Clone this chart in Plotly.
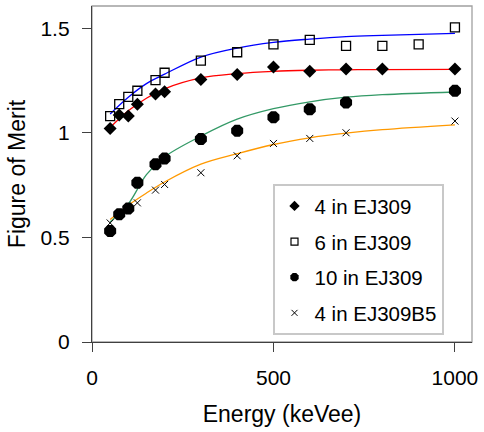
import plotly.graph_objects as go

# ---- data ----
x_diam = [50, 75, 100, 125, 175, 200, 300, 400, 500, 600, 700, 800, 1000]
y_diam = [1.02, 1.085, 1.08, 1.136, 1.185, 1.196, 1.255, 1.278, 1.314, 1.294, 1.305, 1.305, 1.305]

x_sq = [50, 75, 100, 125, 175, 200, 300, 400, 500, 600, 700, 800, 900, 1000]
y_sq = [1.08, 1.137, 1.172, 1.201, 1.252, 1.287, 1.345, 1.385, 1.423, 1.444, 1.415, 1.415, 1.423, 1.504]

x_circ = [50, 75, 100, 125, 175, 200, 300, 400, 500, 600, 700, 1000]
y_circ = [0.531, 0.611, 0.638, 0.761, 0.85, 0.877, 0.97, 1.01, 1.074, 1.112, 1.145, 1.201]

x_cross = [50, 125, 175, 200, 300, 400, 500, 600, 700, 1000]
y_cross = [0.569, 0.665, 0.726, 0.753, 0.809, 0.89, 0.949, 0.973, 1.0, 1.056]

# fitted curves
fit_x = [50, 100, 150, 200, 300, 400, 500, 600, 700, 800, 1000]
fit_blue = [1.09, 1.17, 1.235, 1.28, 1.362, 1.405, 1.432, 1.448, 1.46, 1.466, 1.475]
fit_red = [1.025, 1.105, 1.165, 1.21, 1.262, 1.283, 1.294, 1.299, 1.301, 1.302, 1.303]
fit_green = [0.574, 0.66, 0.8, 0.885, 0.984, 1.065, 1.115, 1.148, 1.17, 1.182, 1.195]
fit_orange = [0.585, 0.654, 0.712, 0.765, 0.85, 0.9, 0.944, 0.976, 0.998, 1.015, 1.038]

names = ["4 in EJ309", "6 in EJ309", "10 in EJ309", "4 in EJ309B5"]

fig = go.Figure()

for fy, col in [(fit_blue, "#0000ff"), (fit_red, "#ff0000"),
                (fit_green, "#339966"), (fit_orange, "#ff9900")]:
    fig.add_trace(go.Scatter(x=fit_x, y=fy, mode="lines", line=dict(color=col, width=1.3, shape="spline"),
                             showlegend=False, hoverinfo="skip"))

mk_diam = dict(symbol="diamond", color="black")
mk_sq = dict(symbol="square-open", color="black")
mk_circ = dict(symbol="octagon", color="black")
mk_cross = dict(symbol="x-thin-open", color="black")

fig.add_trace(go.Scatter(x=x_diam, y=y_diam, mode="markers", showlegend=False,
                         marker=dict(**mk_diam, size=10)))
fig.add_trace(go.Scatter(x=x_sq, y=y_sq, mode="markers", showlegend=False,
                         marker=dict(**mk_sq, size=9, line=dict(width=1.3))))
fig.add_trace(go.Scatter(x=x_circ, y=y_circ, mode="markers", showlegend=False,
                         marker=dict(**mk_circ, size=13)))
fig.add_trace(go.Scatter(x=x_cross, y=y_cross, mode="markers", showlegend=False,
                         marker=dict(**mk_cross, size=7, line=dict(width=1, color="#333"))))

# legend entries (smaller symbols as in the reference legend)
leg = [(names[0], dict(**mk_diam, size=8)),
       (names[1], dict(**mk_sq, size=7, line=dict(width=1.2))),
       (names[2], dict(**mk_circ, size=9)),
       (names[3], dict(**mk_cross, size=6, line=dict(width=1, color="#333")))]
for i, (nm, mk) in enumerate(leg):
    fig.add_trace(go.Scatter(x=[None], y=[None], mode="markers", name=nm,
                             legendgroup=str(i), marker=mk))

FONT = "Liberation Sans, Arial, sans-serif"
fig.update_layout(
    width=484, height=432,
    margin=dict(l=92, r=7, t=6, b=90),
    paper_bgcolor="white", plot_bgcolor="white",
    font=dict(family=FONT, size=19, color="black"),
    legend=dict(x=0.475, y=0.47, xanchor="left", yanchor="top",
                bgcolor="white", bordercolor="#c8c8c8", borderwidth=2,
                font=dict(family=FONT, size=20.5, color="black"), tracegroupgap=6,
                traceorder="grouped", itemwidth=30),
    xaxis=dict(range=[0, 1047], tickvals=[0, 500, 1000], ticks="outside", ticklen=9,
               tickfont=dict(family=FONT, size=21, color="black"),
               showline=True, linecolor="#404040", linewidth=1.3, tickcolor="#404040",
               showgrid=False, zeroline=False, mirror=False, ticklabelstandoff=8,
               title=dict(text="Energy (keVee)", standoff=17)),
    yaxis=dict(range=[0, 1.606], tickvals=[0, 0.5, 1, 1.5], ticktext=["0", "0.5", "1", "1.5"],
               tickfont=dict(family=FONT, size=21, color="black"),
               ticks="outside", ticklen=9, ticklabelstandoff=8,
               showline=True, linecolor="#404040", linewidth=1.3, tickcolor="#404040",
               showgrid=False, zeroline=False,
               title=dict(text="Figure of Merit", standoff=8)),
    shapes=[dict(type="rect", xref="paper", yref="paper", x0=0, y0=0, x1=1, y1=1,
                 line=dict(color="#a0a0a0", width=1.3), layer="below")],
)

fig.write_html("out.html")
